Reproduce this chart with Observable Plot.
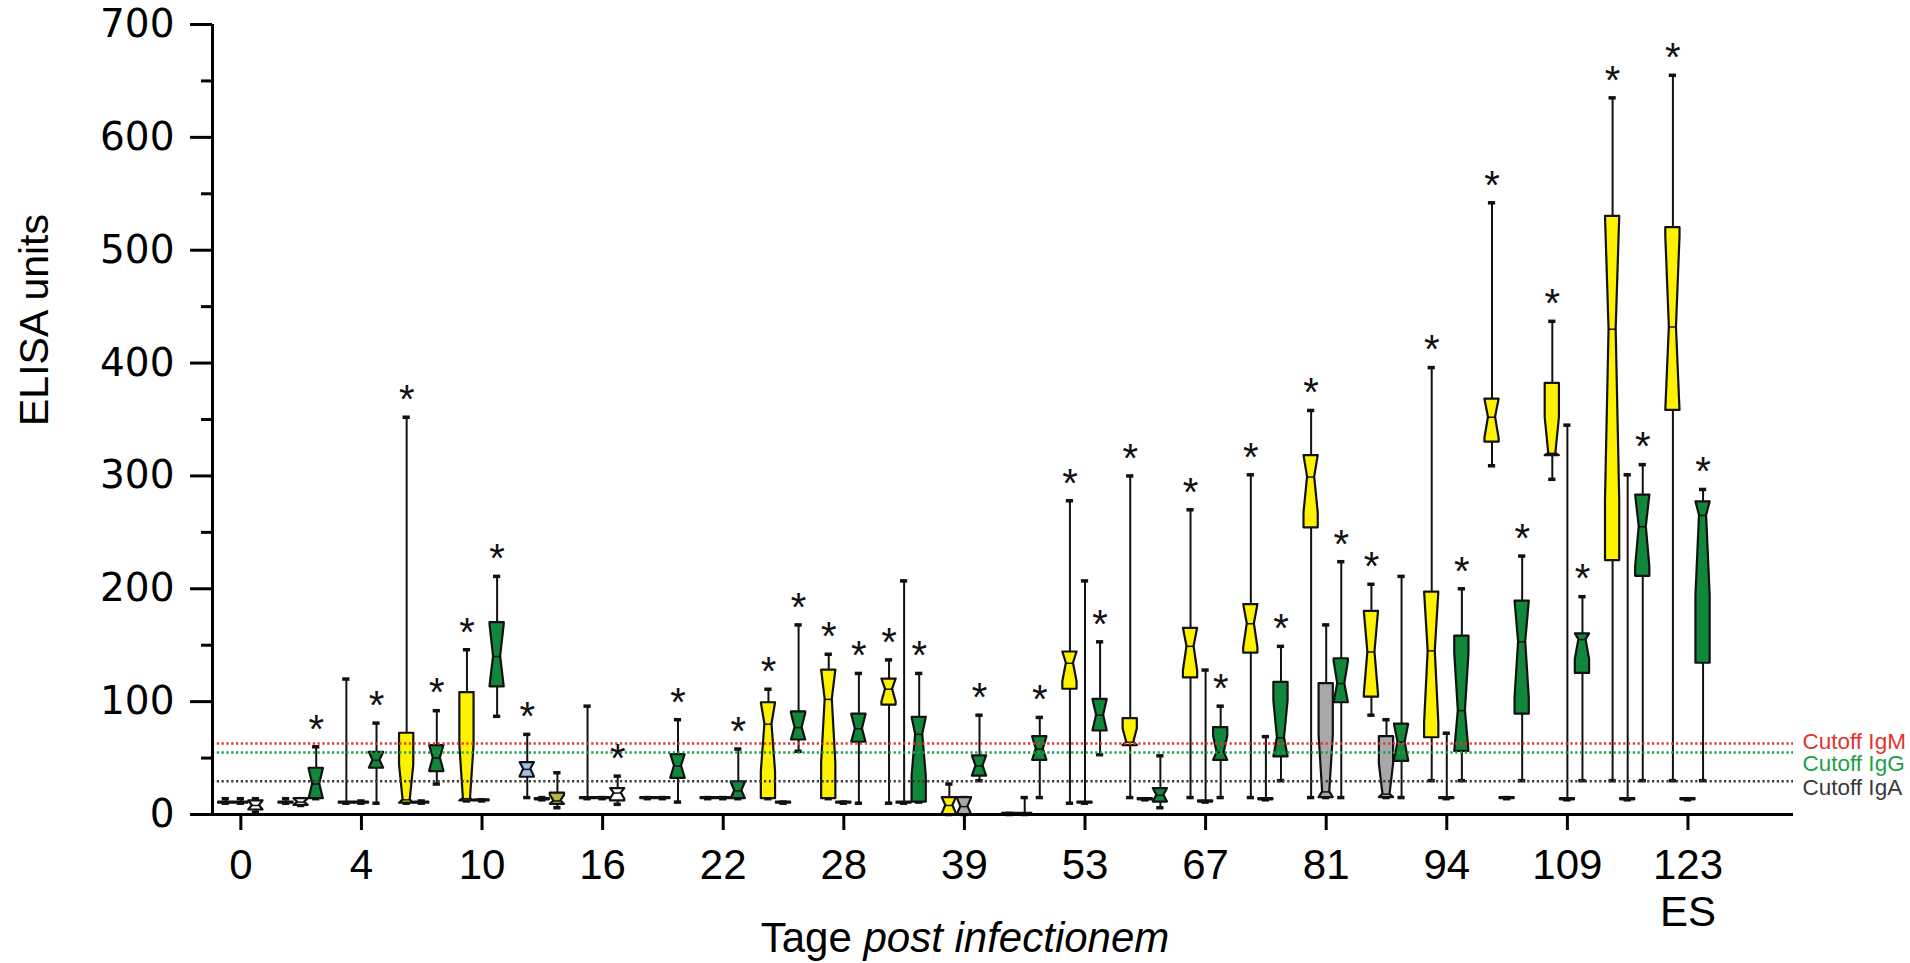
<!DOCTYPE html>
<html>
<head>
<meta charset="utf-8">
<script src="https://cdn.jsdelivr.net/npm/d3@7"></script>
<script src="https://cdn.jsdelivr.net/npm/@observablehq/plot@0.6"></script>
<style>
  html, body { margin: 0; padding: 0; background: #fff; }
  #chart svg { display: block; }
</style>
</head>
<body>
<div id="chart"></div>
<script>
// Day labels, one for every second sampling point (25 sampling points in total)
const dayLabels = ["0", "4", "10", "16", "22", "28", "39", "53", "67", "81", "94", "109", "123\nES"];

// ELISA units per sampling point: [min, q1, median, q3, max]
const igM = [
  [10, 10, 10, 11, 14], [10, 10, 10, 11, 14], [10, 10, 10, 11, 120], [10, 10, 13, 72, 352],
  [12, 12, 14, 108, 146], [15, 33, 40, 46, 71], [14, 14, 14, 15, 96], [14, 14, 14, 15, 15],
  [14, 14, 14, 15, 15], [14, 14, 80, 99, 111], [14, 14, 102, 128, 142], [10, 97, 111, 120, 137],
  [0, 0, 8, 15, 27], [0, 0, 0, 1, 1], [10, 111, 134, 144, 278], [15, 61, 64, 85, 300],
  [15, 121, 149, 165, 270], [15, 143, 169, 186, 301], [15, 254, 299, 318, 358], [88, 104, 144, 180, 204],
  [30, 68, 145, 197, 396], [309, 330, 352, 368, 542], [297, 318, 320, 382, 437], [30, 225, 430, 530, 635],
  [30, 358, 432, 520, 655]
];
const igA = [
  [10, 10, 10, 11, 14], [8, 8, 11, 14, 14], [10, 10, 10, 11, 12], [10, 10, 10, 11, 12],
  [12, 12, 12, 13, 13], [13, 13, 13, 14, 15], [14, 14, 14, 15, 15], [14, 14, 14, 15, 15],
  [14, 14, 14, 15, 15], [10, 10, 10, 11, 11], [10, 10, 10, 11, 11], [10, 10, 10, 11, 207],
  [0, 0, 7, 15, 15], [0, 0, 0, 1, 15], [10, 10, 10, 11, 207], [13, 13, 13, 14, 14],
  [11, 11, 11, 12, 128], [13, 13, 13, 14, 69], [15, 15, 20, 116, 168], [15, 15, 18, 69, 84],
  [14, 14, 14, 15, 72], [14, 14, 14, 15, 15], [13, 13, 13, 14, 345], [13, 13, 13, 14, 301],
  [13, 13, 13, 14, 14]
];
const igG = [
  [2, 4, 8, 12, 14], [14, 14, 27, 41, 60], [10, 41, 48, 55, 81], [27, 38, 50, 61, 92],
  [87, 113, 140, 170, 211], [6, 9, 12, 19, 37], [9, 12, 19, 23, 34], [11, 32, 43, 53, 84],
  [14, 14, 21, 29, 58], [56, 66, 77, 91, 168], [10, 64, 76, 89, 125], [11, 11, 71, 86, 125],
  [30, 34, 43, 52, 88], [15, 48, 58, 69, 86], [53, 74, 88, 102, 153], [6, 11, 17, 23, 52],
  [15, 48, 55, 77, 96], [30, 51, 68, 117, 149], [15, 99, 116, 138, 224], [15, 47, 64, 80, 211],
  [30, 56, 92, 158, 200], [30, 89, 153, 189, 229], [30, 125, 155, 160, 193], [30, 211, 255, 283, 310],
  [30, 134, 265, 277, 288]
];

// Significance (*) per sampling point
const starM = [0,0,0,1,1,1,0,0,0,1,1,1,0,0,1,1,1,1,1,1,1,1,1,1,1];
const starA = [0,0,0,0,0,0,0,0,0,0,0,0,0,0,0,0,0,0,0,0,0,0,0,0,0];
const starG = [0,1,1,1,1,0,1,1,1,1,1,1,1,1,1,0,1,1,1,0,1,1,1,1,1];

// Boxes whose fill departs from their isotype: [sampling point, isotype, tone]
const toneOverrides = [[0, "IgG", "neg"], [1, "IgA", "neg"], [5, "IgM", "pale"], [5, "IgG", "olive"], [6, "IgG", "neg"]];

// Cut-off values
const cutoffNames = ["Cutoff IgM", "Cutoff IgG", "Cutoff IgA"];
const cutoffValues = [63, 55, 29.5];

// Sera per sampling point, used for the notch (median ± 1.57·IQR/√n)
const sampleSize = 10;

// ---- build box records ----
const xMin = -0.47, xMax = 25.75;
const halfBox = 0.118, capHalf = 0.06, notchRatio = 0.5;
const series = [
  {iso: "IgM", stats: igM, stars: starM, offset: -0.25},
  {iso: "IgA", stats: igA, stars: starA, offset: 0},
  {iso: "IgG", stats: igG, stars: starG, offset: 0.25}
];
const boxes = [];
for (const s of series) {
  s.stats.forEach(([min, q1, med, q3, max], i) => {
    const ov = toneOverrides.find(o => o[0] === i && o[1] === s.iso);
    const half = 1.57 * (q3 - q1) / Math.sqrt(sampleSize);
    boxes.push({
      id: `${s.iso}-${i}`, x: i + s.offset, min, q1, med, q3, max,
      lo: Math.max(q1, med - half), hi: Math.min(q3, med + half),
      tone: ov ? ov[2] : s.iso, star: s.stars[i] === 1
    });
  });
}
const outline = boxes.flatMap(b => [
  [b.q1, halfBox], [b.lo, halfBox], [b.med, halfBox * notchRatio], [b.hi, halfBox], [b.q3, halfBox]
].map(([y, w]) => ({id: b.id, tone: b.tone, y, x1: b.x - w, x2: b.x + w})));

const cutoffColors = ["#e2342c", "#1f9e4a", "#3a3a3a"];
const labelShift = [-2, 11, 7];

const chart = Plot.plot({
  width: 1910,
  height: 963,
  marginLeft: 212,
  marginRight: 117,
  marginTop: 24,
  marginBottom: 149,
  style: {fontFamily: "'Liberation Sans', Arial, sans-serif", background: "#fff", color: "#000"},
  x: {domain: [xMin, xMax]},
  y: {domain: [0, 700]},
  color: {
    domain: ["IgM", "IgA", "IgG", "neg", "pale", "olive"],
    range: ["#fff200", "#a8a8a8", "#10873b", "#ffffff", "#9fc2e4", "#b9b53c"]
  },
  marks: [
    // whiskers and caps
    Plot.ruleX(boxes, {x: "x", y1: "min", y2: "max", stroke: "#111", strokeWidth: 2}),
    Plot.ruleY(boxes, {y: "max", x1: d => d.x - capHalf, x2: d => d.x + capHalf, stroke: "#111", strokeWidth: 3.5}),
    Plot.ruleY(boxes, {y: "min", x1: d => d.x - capHalf, x2: d => d.x + capHalf, stroke: "#111", strokeWidth: 3.5}),
    // notched boxes
    Plot.areaX(outline, {y: "y", x1: "x1", x2: "x2", z: "id", fill: "tone", stroke: "#111", strokeWidth: 2.2, curve: "linear"}),
    Plot.ruleY(boxes, {y: "med", x1: d => d.x - halfBox * notchRatio, x2: d => d.x + halfBox * notchRatio, stroke: "#111", strokeWidth: 1.5}),
    // cut-off lines
    ...cutoffValues.map((v, k) => Plot.ruleY([v], {stroke: cutoffColors[k], strokeWidth: 2.5, strokeDasharray: "2.2,2.6"})),
    ...cutoffValues.map((v, k) => Plot.text([cutoffNames[k]], {
      x: xMax, y: v, dx: 9, dy: labelShift[k], text: d => d, textAnchor: "start", lineAnchor: "middle",
      fill: cutoffColors[k], fontSize: 22.5
    })),
    // significance stars
    Plot.text(boxes.filter(b => b.star), {x: "x", y: "max", text: () => "*", fontSize: 40, dy: -17, lineAnchor: "middle", fill: "#111"}),
    // axes
    Plot.axisY({ticks: d3.range(50, 700, 100), tickSize: 11, tickFormat: () => "", strokeWidth: 3, label: null}),
    Plot.axisY({ticks: d3.range(0, 701, 100), tickSize: 22, tickPadding: 16, strokeWidth: 3, fontSize: 39,
      fontFamily: "'DejaVu Sans', sans-serif", label: null}),
    Plot.axisX({ticks: d3.range(0, 25, 2), tickFormat: i => dayLabels[i / 2], tickSize: 16, tickPadding: 15,
      strokeWidth: 3, fontSize: 42, lineHeight: 1.12, label: null}),
    Plot.ruleY([0], {stroke: "#000", strokeWidth: 3}),
    Plot.ruleX([xMin], {y1: 0, y2: 700, stroke: "#000", strokeWidth: 3})
  ]
});

const svg = d3.select(chart);
svg.append("text")
  .attr("transform", "translate(34,320) rotate(-90)")
  .attr("text-anchor", "middle")
  .attr("dominant-baseline", "central")
  .style("font", "41px 'Liberation Sans', Arial, sans-serif")
  .text("ELISA units");
const xTitle = svg.append("text")
  .attr("x", 965).attr("y", 952)
  .attr("text-anchor", "middle")
  .style("font", "42px 'Liberation Sans', Arial, sans-serif");
xTitle.append("tspan").text("Tage\u00a0");
xTitle.append("tspan").attr("font-style", "italic").text("post infectionem");

document.getElementById("chart").appendChild(chart);
</script>
</body>
</html>
